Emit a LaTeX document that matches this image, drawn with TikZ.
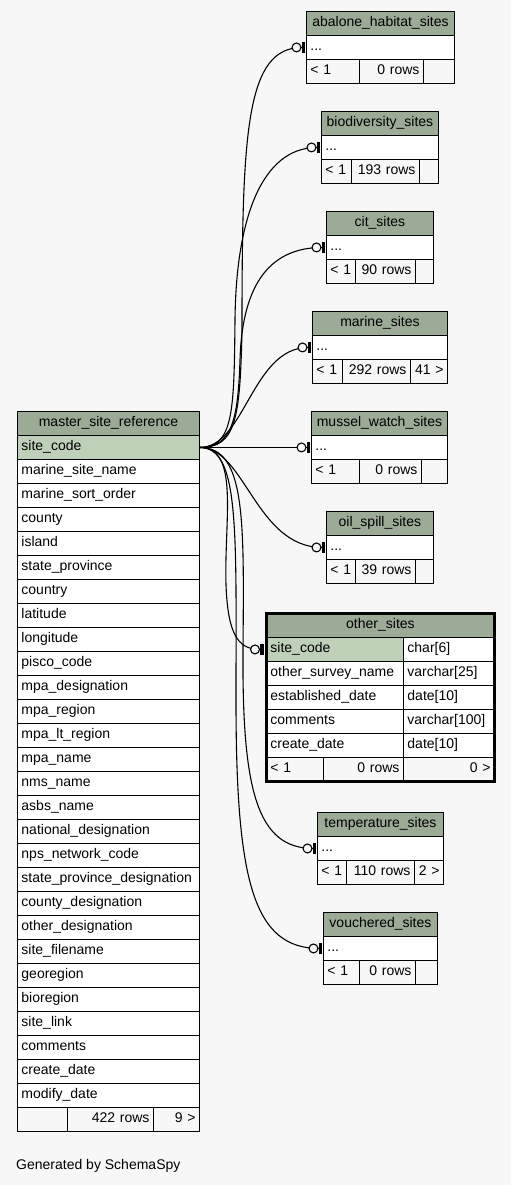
\documentclass[tikz,border=0pt]{standalone}
\usepackage{fontspec}
\setmainfont{Liberation Sans}
\usetikzlibrary{arrows.meta}
\definecolor{DiagBg}{HTML}{F7F7F7}
\definecolor{HeadGreen}{HTML}{9BAB96}
\definecolor{KeyGreen}{HTML}{BED1B8}
\hyphenpenalty=10000

% one table cell: name, x, y, width, style, text
\newcommand{\tabcell}[6]{%
  \pgfmathsetmacro{\cellw}{#4-8}%
  \node[cell,#5,text width=\cellw pt] (#1) at (#2,#3) {#6};}
% collapsed table: name, x, y, width, title, foot widths, rows, refs
\newcommand{\smalltab}[9]{%
  \tabcell{#1}{#2}{#3}{#4}{hdr}{#5}
  \tabcell{#1-row}{#2}{#3+24}{#4}{}{...}
  \tabcell{#1-f1}{#2}{#3+48}{#6}{foot}{< 1}
  \tabcell{#1-f2}{#2+#6}{#3+48}{#7}{foot,align=right}{#8}
  \tabcell{#1-f3}{#2+#6+#7}{#3+48}{#4-#6-#7}{foot,align=right}{#9}}

\begin{document}
\begin{tikzpicture}[x=1pt,y=-1pt,
  cell/.style={draw=black,line width=0.9pt,fill=white,anchor=north west,
    inner xsep=4pt,inner ysep=0pt,minimum height=24pt,text height=10.5pt,
    text depth=3.5pt,align=left,font=\fontsize{14}{16}\selectfont},
  hdr/.style={fill=HeadGreen,align=center},
  key/.style={fill=KeyGreen},
  foot/.style={fill=DiagBg},
  fk/.style={line width=1.1pt,shorten >=1pt,
    -{Circle[length=10pt,width=10pt,line width=1.1pt,fill=DiagBg]Bar[width=11pt,line width=3.5pt]}}
]
\fill[DiagBg] (0,0) rectangle (511,1185);
\useasboundingbox (0,0) rectangle (511,1185);

% master table
\tabcell{master}{17}{411}{182}{hdr}{master\_site\_reference}
\tabcell{master-code}{17}{435}{182}{key}{site\_code}
\foreach \fld [count=\i] in {marine\_site\_name,marine\_sort\_order,county,island,
  state\_province,country,latitude,longitude,pisco\_code,mpa\_designation,
  mpa\_region,mpa\_lt\_region,mpa\_name,nms\_name,asbs\_name,national\_designation,
  nps\_network\_code,state\_province\_designation,county\_designation,
  other\_designation,site\_filename,georegion,bioregion,site\_link,comments,
  create\_date,modify\_date}
  {\tabcell{master-\i}{17}{435+24*\i}{182}{}{\fld}}
\tabcell{master-f1}{17}{1107}{50}{foot}{}
\tabcell{master-f2}{67}{1107}{86}{foot,align=right}{422 rows}
\tabcell{master-f3}{153}{1107}{46}{foot,align=right}{9 >}

% child tables
\smalltab{abalone}{306}{11}{148}{abalone\_habitat\_sites}{53}{64}{0 rows}{}
\smalltab{biodiversity}{321}{111}{117}{biodiversity\_sites}{30}{68}{193 rows}{}
\smalltab{cit}{326}{211}{107}{cit\_sites}{29}{60}{90 rows}{}
\smalltab{marine}{312}{311}{135}{marine\_sites}{30}{68}{292 rows}{41 >}
\smalltab{mussel}{311}{411}{136}{mussel\_watch\_sites}{48}{62}{0 rows}{}
\smalltab{oil}{326}{511}{107}{oil\_spill\_sites}{29}{60}{39 rows}{}
\smalltab{temperature}{317}{812}{126}{temperature\_sites}{29}{68}{110 rows}{2 >}
\smalltab{vouchered}{323}{912}{114}{vouchered\_sites}{36}{56}{0 rows}{}

% focused table
\tabcell{other}{266}{613}{228}{hdr}{other\_sites}
\tabcell{other-code}{266}{637}{137}{key}{site\_code}
\tabcell{other-code-t}{403}{637}{91}{}{char[6]}
\foreach \fld/\typ [count=\i] in {other\_survey\_name/varchar[25],
  established\_date/date[10],comments/varchar[100],create\_date/date[10]}
  {\tabcell{other-\i}{266}{637+24*\i}{137}{}{\fld}
   \tabcell{other-\i-t}{403}{637+24*\i}{91}{}{\typ}}
\tabcell{other-f1}{266}{757}{57}{foot}{< 1}
\tabcell{other-f2}{323}{757}{80}{foot,align=right}{0 rows}
\tabcell{other-f3}{403}{757}{91}{foot,align=right}{0 >}
\draw[line width=3pt] (other.north west) rectangle (other-f3.south east);

% foreign keys
\draw[fk] (master-code.east) .. controls +(36,0) and (240,420) .. (242,330)
  .. controls (242,130) and +(-60,0) .. (abalone-row.west);
\draw[fk] (master-code.east) .. controls +(34,0) and (234,410) .. (235,320)
  .. controls (236,220) and +(-60,0) .. (biodiversity-row.west);
\draw[fk] (master-code.east) .. controls +(32,0) and (238,420) .. (240,360)
  .. controls (242,290) and +(-60,0) .. (cit-row.west);
\draw[fk] (master-code.east) .. controls +(45,0) and +(-60,0) .. (marine-row.west);
\draw[fk] (master-code.east) -- (mussel-row.west);
\draw[fk] (master-code.east) .. controls +(45,0) and +(-70,0) .. (oil-row.west);
\draw[fk,shorten >=2.5pt] (master-code.east) .. controls +(40,0) and (224,520) .. (226,585)
  .. controls (228,640) and +(-25,0) .. (other-code.west);
\draw[fk] (master-code.east) .. controls +(46,0) and (244,520) .. (243,650)
  .. controls (242,790) and +(-60,0) .. (temperature-row.west);
\draw[fk] (master-code.east) .. controls +(40,0) and (236,530) .. (236,700)
  .. controls (236,880) and +(-70,0) .. (vouchered-row.west);

\node[anchor=west,inner sep=0pt,font=\fontsize{14}{16}\selectfont] (credit) at (16,1166) {Generated by SchemaSpy};
\end{tikzpicture}
\end{document}
